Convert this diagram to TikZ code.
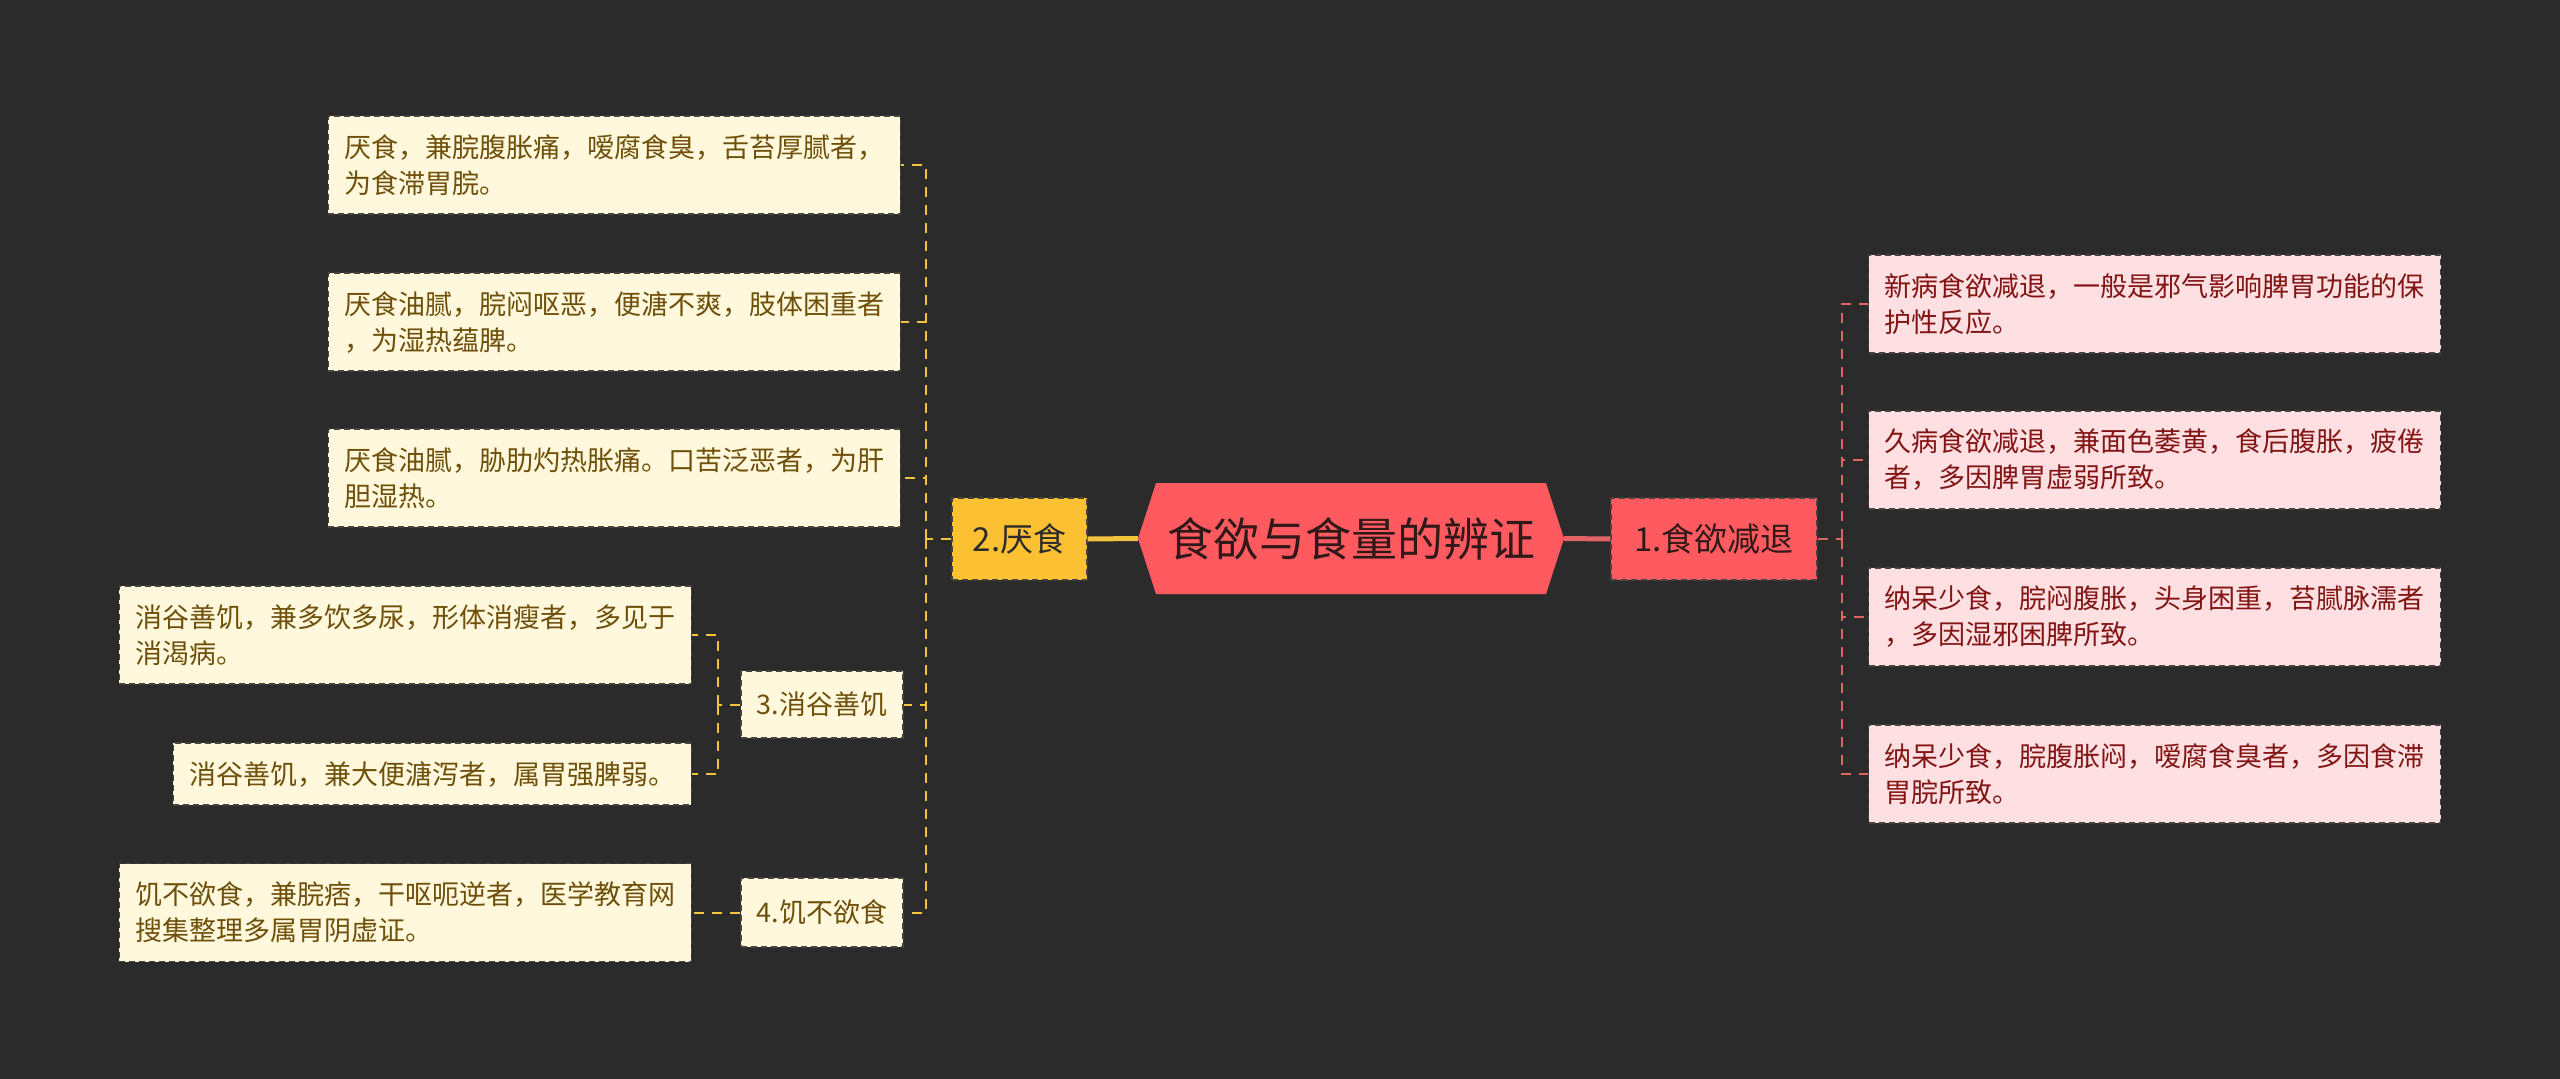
\documentclass[tikz,border=0pt]{standalone}
\usepackage{fontspec}
\setmainfont{Noto Sans CJK SC}
\usetikzlibrary{positioning}
\definecolor{bgdark}{RGB}{43, 43, 43}
\definecolor{topicred}{RGB}{255, 90, 95}
\definecolor{topicink}{RGB}{50, 25, 25}
\definecolor{goldfill}{RGB}{252, 193, 51}
\definecolor{creamfill}{RGB}{255, 248, 220}
\definecolor{creamink}{RGB}{110, 80, 10}
\definecolor{pinkfill}{RGB}{255, 224, 226}
\definecolor{pinkink}{RGB}{130, 20, 20}
\definecolor{goldline}{RGB}{240, 196, 60}
\definecolor{redline}{RGB}{225, 100, 100}
\definecolor{edgegray}{RGB}{70, 66, 60}

\begin{document}
\begin{tikzpicture}[
    x=1pt, y=-1pt,
    % Node styles
    leafbox/.style={
        rectangle,
        draw=edgegray,
        dash pattern=on 6pt off 4pt,
        line width=1.2pt,
        fill=#1,
        align=left,
        inner xsep=16pt,
        minimum height=98pt,
        font=\fontsize{27}{36}\selectfont
    },
    creamleaf/.style={leafbox=creamfill, text=creamink},
    pinkleaf/.style={leafbox=pinkfill, text=pinkink},
    subtopic/.style={
        rectangle,
        draw=edgegray,
        dash pattern=on 6pt off 4pt,
        line width=1.2pt,
        fill=#1,
        inner sep=0pt
    },
    link/.style={
        dash pattern=on 10pt off 8pt,
        line width=2pt,
        color=#1
    },
    mainlink/.style={
        line width=5pt,
        color=#1
    }
]

% ============================================
% BACKGROUND
% ============================================
\fill[bgdark] (0,0) rectangle (2560,1079);

% ============================================
% CENTRAL TOPIC
% ============================================
\fill[topicred] (1138,538.5) -- (1156,483) -- (1546,483) -- (1564,538.5)
    -- (1546,594) -- (1156,594) -- cycle;
\node[minimum width=426pt, minimum height=111pt, inner sep=0pt,
      font=\fontsize{46}{50}\selectfont, text=topicink] (topic) at (1351,538.5) {食欲与食量的辨证};

% ============================================
% MAIN BRANCHES
% ============================================
\node[subtopic=topicred, minimum width=206pt, minimum height=82pt,
      font=\fontsize{33}{38}\selectfont, text=topicink] (jiantui) at (1714,539) {1.食欲减退};
\node[subtopic=goldfill, minimum width=135pt, minimum height=82pt,
      font=\fontsize{33}{38}\selectfont, text=bgdark] (yanshi) at (1019.5,539) {2.厌食};
\node[subtopic=creamfill, minimum width=162pt, minimum height=67pt,
      font=\fontsize{27}{32}\selectfont, text=creamink] (shangu) at (822,704.5) {3.消谷善饥};
\node[subtopic=creamfill, minimum width=162pt, minimum height=69pt,
      font=\fontsize{27}{32}\selectfont, text=creamink] (jibuyu) at (822,912.5) {4.饥不欲食};

% ============================================
% LEAVES (Left)
% ============================================
\node[creamleaf, anchor=east] (yan1) at (901,165) {厌食，兼脘腹胀痛，嗳腐食臭，舌苔厚腻者，\\为食滞胃脘。};
\node[creamleaf, anchor=east] (yan2) at (901,322) {厌食油腻，脘闷呕恶，便溏不爽，肢体困重者\\，为湿热蕴脾。};
\node[creamleaf, anchor=east] (yan3) at (901,478) {厌食油腻，胁肋灼热胀痛。口苦泛恶者，为肝\\胆湿热。};
\node[creamleaf, anchor=east] (shan1) at (692,635) {消谷善饥，兼多饮多尿，形体消瘦者，多见于\\消渴病。};
\node[creamleaf, anchor=east, minimum height=62pt] (shan2) at (692,774) {消谷善饥，兼大便溏泻者，属胃强脾弱。};
\node[creamleaf, anchor=east] (ji1) at (692,912.5) {饥不欲食，兼脘痞，干呕呃逆者，医学教育网\\搜集整理多属胃阴虚证。};

% ============================================
% LEAVES (Right)
% ============================================
\node[pinkleaf, anchor=west] (jian1) at (1868,304) {新病食欲减退，一般是邪气影响脾胃功能的保\\护性反应。};
\node[pinkleaf, anchor=west] (jian2) at (1868,460) {久病食欲减退，兼面色萎黄，食后腹胀，疲倦\\者，多因脾胃虚弱所致。};
\node[pinkleaf, anchor=west] (jian3) at (1868,617) {纳呆少食，脘闷腹胀，头身困重，苔腻脉濡者\\，多因湿邪困脾所致。};
\node[pinkleaf, anchor=west] (jian4) at (1868,774) {纳呆少食，脘腹胀闷，嗳腐食臭者，多因食滞\\胃脘所致。};

% ============================================
% CONNECTORS
% ============================================
\draw[mainlink=goldline] (topic.west) -- (yanshi.east);
\draw[mainlink=redline] (topic.east) -- (jiantui.west);

% 2.厌食 -> children
\coordinate (yanj) at (926,539);
\draw[link=goldline] (yanshi.west) -- (yanj);
\foreach \n in {yan1, yan2, yan3, shangu, jibuyu}
    \draw[link=goldline] (yanj) |- (\n.east);

% 3.消谷善饥 -> children
\coordinate (shanj) at (718,704.5);
\draw[link=goldline] (shangu.west) -- (shanj);
\foreach \n in {shan1, shan2}
    \draw[link=goldline] (shanj) |- (\n.east);

% 4.饥不欲食 -> child
\draw[link=goldline] (jibuyu.west) -- (ji1.east);

% 1.食欲减退 -> children
\coordinate (jianj) at (1842,539);
\draw[link=redline] (jiantui.east) -- (jianj);
\foreach \n in {jian1, jian2, jian3, jian4}
    \draw[link=redline] (jianj) |- (\n.west);

\end{tikzpicture}
\end{document}
